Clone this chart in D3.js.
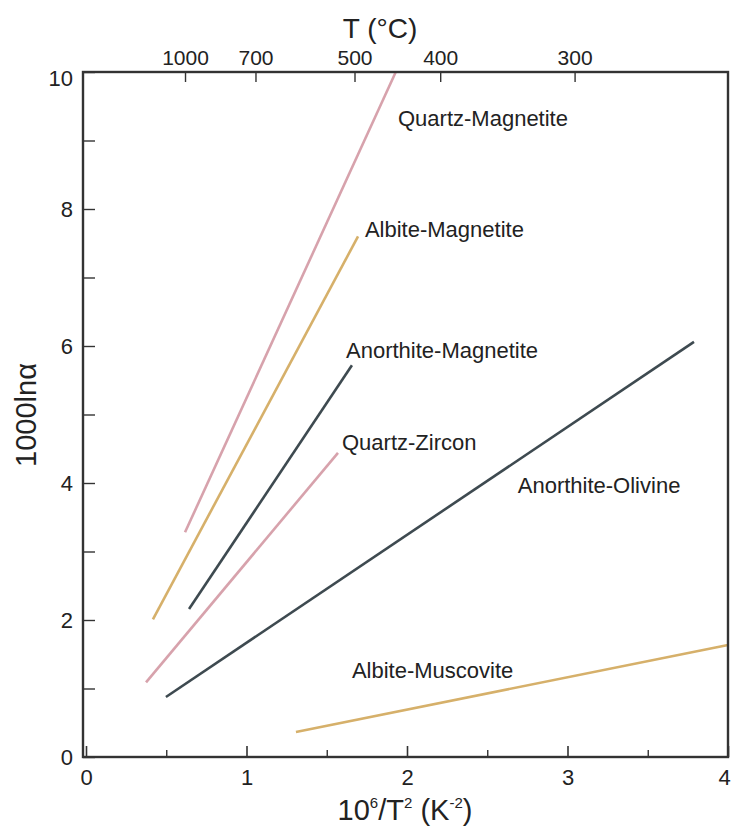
<!DOCTYPE html>
<html>
<head>
<meta charset="utf-8">
<script src="https://cdn.jsdelivr.net/npm/d3@7"></script>
<style>
  body { margin: 0; background: #fff; }
  svg text { font-family: "Liberation Sans", Arial, sans-serif; fill: #222; }
</style>
</head>
<body>
<div id="chart"></div>
<script>
// fractionation lines, x = 10^6/T^2, y = 1000ln(alpha)
var pairNames = ["Quartz-Magnetite", "Albite-Magnetite", "Anorthite-Magnetite",
                 "Quartz-Zircon", "Anorthite-Olivine", "Albite-Muscovite"];
var xStart = [0.617, 0.417, 0.642, 0.374, 0.498, 1.308];
var yStart = [3.28, 2.01, 2.16, 1.09, 0.876, 0.365];
var xEnd   = [1.93, 1.695, 1.657, 1.57, 3.788, 4.0];
var yEnd   = [10.0, 7.6, 5.72, 4.44, 6.06, 1.635];
var lineColors = ["#d7a2ac", "#d6b06a", "#3e4a50", "#d7a2ac", "#3e4a50", "#d6b06a"];

// where each name sits (data units)
var labelX = [1.944, 1.738, 1.62, 1.595, 2.69, 1.657];
var labelY = [9.33, 7.71, 5.94, 4.6, 3.97, 1.27];

var xMajor = [0, 1, 2, 3, 4];
var xMinor = [0.5, 1.5, 2.5, 3.5];
var yMajor = [0, 2, 4, 6, 8, 10];
var yMinor = [1, 3, 5, 7, 9];
var tempTicks = [1000, 700, 500, 400, 300];   // degrees C on top axis

var W = 731, H = 829;
var mLeft = 83, mRight = 728, mTop = 72, mBottom = 757;

var x = d3.scaleLinear().domain([0, 4]).range([86, mRight]);
var y = d3.scaleLinear().domain([0, 10]).range([mBottom, mTop]);

var svg = d3.select("#chart").append("svg")
    .attr("width", W).attr("height", H);

// lines first, frame on top
var lines = pairNames.map(function(n, i) {
  return {name: n, x1: xStart[i], y1: yStart[i], x2: xEnd[i], y2: yEnd[i], c: lineColors[i]};
});

svg.selectAll("line.pair").data(lines).enter().append("line")
    .attr("class", "pair")
    .attr("x1", function(d) { return x(d.x1); })
    .attr("y1", function(d) { return y(d.y1); })
    .attr("x2", function(d) { return x(d.x2); })
    .attr("y2", function(d) { return y(d.y2); })
    .attr("stroke", function(d) { return d.c; })
    .attr("stroke-width", 2.6);

svg.selectAll("text.pair").data(pairNames).enter().append("text")
    .attr("class", "pair")
    .attr("x", function(d, i) { return x(labelX[i]); })
    .attr("y", function(d, i) { return y(labelY[i]); })
    .attr("dy", "0.35em")
    .style("font-size", "22px")
    .text(function(d) { return d; });

// frame
svg.append("rect")
    .attr("x", mLeft).attr("y", mTop)
    .attr("width", mRight - mLeft).attr("height", mBottom - mTop)
    .attr("fill", "none").attr("stroke", "#333").attr("stroke-width", 2.4);

// bottom axis, ticks pointing inward
var xAxis = d3.axisBottom(x).tickValues(xMajor).tickSizeInner(-11).tickSizeOuter(0)
    .tickPadding(12).tickFormat(d3.format("d"));
var gx = svg.append("g").attr("transform", "translate(0," + mBottom + ")").call(xAxis);
gx.select(".domain").remove();
gx.selectAll("line").attr("stroke", "#333").attr("stroke-width", 1.6);
gx.selectAll("text").style("font-size", "22px").attr("fill", "#222");
gx.selectAll(".tick").filter(function(d) { return d === 4; }).select("text")
    .attr("text-anchor", "end").attr("dx", "0.1em");

var gxm = svg.append("g").attr("transform", "translate(0," + mBottom + ")")
    .call(d3.axisBottom(x).tickValues(xMinor).tickSizeInner(-7).tickSizeOuter(0).tickFormat(""));
gxm.select(".domain").remove();
gxm.selectAll("line").attr("stroke", "#333").attr("stroke-width", 1.4);

// left axis
var yAxis = d3.axisLeft(y).tickValues(yMajor).tickSizeInner(-12).tickSizeOuter(0)
    .tickPadding(10).tickFormat(d3.format("d"));
var gy = svg.append("g").attr("transform", "translate(" + mLeft + ",0)").call(yAxis);
gy.select(".domain").remove();
gy.selectAll("line").attr("stroke", "#333").attr("stroke-width", 1.4);
gy.selectAll("text").style("font-size", "22px").attr("fill", "#222");
gy.selectAll(".tick").filter(function(d) { return d === 10; }).select("text").attr("dy", "0.6em");

var gym = svg.append("g").attr("transform", "translate(" + mLeft + ",0)")
    .call(d3.axisLeft(y).tickValues(yMinor).tickSizeInner(-12).tickSizeOuter(0).tickFormat(""));
gym.select(".domain").remove();
gym.selectAll("line").attr("stroke", "#333").attr("stroke-width", 1.4);

// top axis in degrees C, placed via 10^6/T^2
function tempToX(c) { var k = c + 273.15; return 1e6 / (k * k); }
var gt = svg.append("g").attr("transform", "translate(0," + mTop + ")")
    .call(d3.axisTop(x).tickValues(tempTicks.map(tempToX)).tickSizeInner(-10).tickSizeOuter(0)
      .tickPadding(7).tickFormat(function(d, i) { return tempTicks[i]; }));
gt.select(".domain").remove();
gt.selectAll("line").attr("stroke", "#333").attr("stroke-width", 1.4);
gt.selectAll("text").style("font-size", "21px").attr("fill", "#222");

// titles
svg.append("text").attr("x", 380).attr("y", 38).attr("text-anchor", "middle")
    .style("font-size", "28px").text("T (°C)");

var xt = svg.append("text").attr("x", 405).attr("y", 820).attr("text-anchor", "middle")
    .style("font-size", "29px");
xt.append("tspan").text("10");
xt.append("tspan").attr("dy", -12).style("font-size", "15px").text("6");
xt.append("tspan").attr("dy", 12).text("/T");
xt.append("tspan").attr("dy", -12).style("font-size", "15px").text("2");
xt.append("tspan").attr("dy", 12).text(" (K");
xt.append("tspan").attr("dy", -12).style("font-size", "15px").text("-2");
xt.append("tspan").attr("dy", 12).text(")");

svg.append("text")
    .attr("transform", "translate(36,415) rotate(-90)")
    .attr("text-anchor", "middle")
    .style("font-size", "29px")
    .text("1000lnα");
</script>
</body>
</html>
